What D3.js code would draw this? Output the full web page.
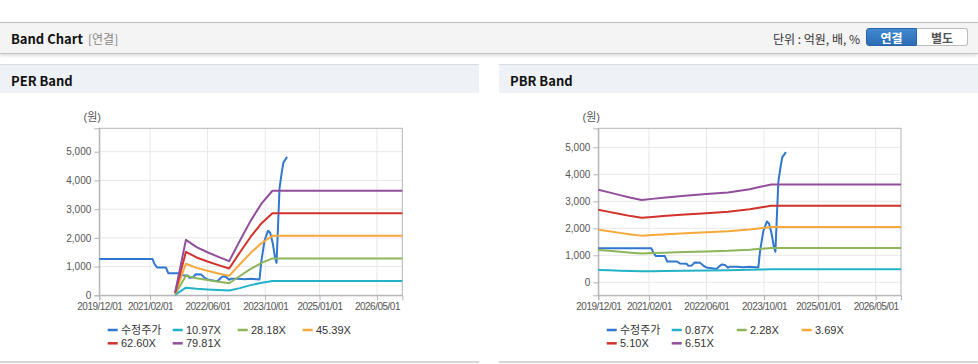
<!DOCTYPE html>
<html>
<head>
<meta charset="utf-8">
<script src="https://cdn.jsdelivr.net/npm/d3@7"></script>
<style>
  body { margin: 0; width: 978px; height: 364px; background: #fff; position: relative; overflow: hidden;
         font-family: "Noto Sans CJK KR", "Liberation Sans", sans-serif; }
  #topbar { position: absolute; left: 0; top: 22px; width: 978px; height: 30px; background: #f4f4f4;
            border-top: 1px solid #bdbdbd; border-bottom: 1px solid #c4c4c4; box-shadow: 0 2px 3px rgba(0,0,0,.13); }
  #topbar .ttl { position: absolute; left: 11px; top: 6px; font-size: 13px; font-weight: 700; color: #111; }
  #topbar .sub { position: absolute; left: 88px; top: 7px; font-size: 12px; color: #888; }
  #topbar .unit { position: absolute; right: 118px; top: 7px; font-size: 12px; color: #333; }
  .btn { position: absolute; top: 5px; height: 18px; width: 51px; font-size: 12px; font-weight: 700;
         text-align: center; line-height: 18px; box-sizing: border-box; }
  #b1 { left: 866px; background: linear-gradient(#4189d0, #2c6cb3); color: #fff; border: 1px solid #2a64a6;
        border-radius: 3px 0 0 3px; }
  #b2 { left: 917px; background: #fff; color: #555; border: 1px solid #bbb; border-left: none;
        border-radius: 0 3px 3px 0; }
  .phead { position: absolute; top: 64px; height: 28px; width: 479px; background: #eef2f7;
           border-top: 1px solid #d8dce0; }
  .phead span { position: absolute; left: 11px; top: 6px; font-size: 13px; font-weight: 700; color: #111; }
  .pfoot { position: absolute; top: 361px; height: 2px; width: 479px; background: #d6d6d6; }
  svg { position: absolute; left: 0; top: 0; }
</style>
</head>
<body>
<div id="topbar">
  <div class="ttl">Band Chart</div><div class="sub">[연결]</div>
  <div class="unit">단위 : 억원, 배, %</div>
  <div class="btn" id="b1">연결</div><div class="btn" id="b2">별도</div>
</div>
<div class="phead" style="left:0"><span>PER Band</span></div>
<div class="phead" style="left:499px"><span>PBR Band</span></div>
<div class="pfoot" style="left:0"></div>
<div class="pfoot" style="left:499px"></div>
<svg id="chart" width="978" height="364"></svg>
<script>
// ---- data ----
const xTicks = ['2019-12-01', '2021-02-01', '2022-06-01', '2023-10-01', '2025-01-01', '2026-05-01'];
const yTicks = [0, 1000, 2000, 3000, 4000, 5000];

// 수정주가 (shared by both panels)
const priceDates = ['2019-12-01', '2021-02-22', '2021-03-10', '2021-04-01', '2021-06-15', '2021-07-05',
  '2021-09-25', '2021-10-20', '2021-12-15', '2021-12-31', '2022-01-28', '2022-02-20', '2022-04-10',
  '2022-05-05', '2022-06-01', '2022-07-30', '2022-08-27', '2022-09-20', '2022-10-08', '2022-11-05',
  '2022-12-01', '2022-12-17', '2023-02-12', '2023-04-09', '2023-06-04', '2023-08-14', '2023-08-28',
  '2023-09-25', '2023-10-25', '2023-11-12', '2023-12-04', '2023-12-24', '2024-01-05', '2024-01-30',
  '2024-02-18', '2024-03-03', '2024-04-03'];
const priceVals = [1260, 1260, 1100, 970, 970, 770, 770, 700, 690, 610, 620, 730, 720, 620, 550, 510,
  500, 600, 660, 640, 540, 580, 580, 560, 580, 550, 1140, 1900, 2250, 2180, 1800, 1300, 1130, 3730,
  4290, 4630, 4820];

// PER band
const perDates = ['2021-09-01', '2021-12-01', '2022-03-01', '2022-06-01', '2022-09-01', '2022-12-01',
  '2023-03-01', '2023-06-01', '2023-09-01', '2023-12-01', '2026-12-01'];
const perLabels = ['10.97X', '28.18X', '45.39X', '62.60X', '79.81X'];
const per1097 = [14, 265, 231, 206, 184, 164, 250, 355, 440, 500, 500];
const per2818 = [35, 681, 593, 530, 473, 420, 671, 918, 1130, 1285, 1285];
const per4539 = [57, 1098, 955, 853, 762, 677, 1081, 1479, 1820, 2070, 2070];
const per6260 = [78, 1514, 1318, 1177, 1051, 933, 1490, 2039, 2510, 2855, 2855];
const per7981 = [100, 1930, 1680, 1500, 1340, 1190, 1900, 2600, 3200, 3640, 3640];

// PBR band
const pbrDates = ['2019-12-01', '2020-03-01', '2020-06-01', '2020-09-01', '2020-12-01', '2021-03-01',
  '2021-06-01', '2021-12-01', '2022-06-01', '2022-12-01', '2023-06-01', '2023-09-01', '2023-12-01',
  '2026-12-01'];
const pbrLabels = ['0.87X', '2.28X', '3.69X', '5.10X', '6.51X'];
const pbr087 = [458, 445, 432, 418, 407, 413, 418, 429, 437, 445, 461, 473, 484, 484];
const pbr228 = [1201, 1166, 1131, 1096, 1068, 1082, 1096, 1124, 1145, 1166, 1208, 1240, 1268, 1268];
const pbr369 = [1944, 1887, 1831, 1774, 1729, 1751, 1774, 1819, 1853, 1887, 1955, 2006, 2052, 2052];
const pbr510 = [2687, 2609, 2530, 2452, 2389, 2421, 2452, 2515, 2562, 2609, 2703, 2773, 2836, 2836];
const pbr651 = [3430, 3330, 3230, 3130, 3050, 3090, 3130, 3210, 3270, 3330, 3450, 3540, 3620, 3620];

const priceColor = '#3277cf';
const bandColors = ['#22b3c6', '#8db55a', '#f6a83a', '#d1322c', '#914e9b'];

// ---- drawing ----
const parse = d3.timeParse('%Y-%m-%d');
const svg = d3.select('#chart');
const FONT = '"Liberation Sans", "Noto Sans CJK KR", sans-serif';

function drawPanel(o) {
  const x = d3.scaleTime([parse('2019-12-01'), parse('2026-12-01')], [o.L, o.R]);
  const y = d3.scaleLinear(o.yDom, [o.B, o.T]);
  const g = svg.append('g');

  // grid
  g.append('g').selectAll('line').data(yTicks).join('line')
    .attr('x1', o.L).attr('x2', o.R).attr('y1', d => y(d)).attr('y2', d => y(d))
    .attr('stroke', '#e8e8e8');
  g.append('g').selectAll('line').data(xTicks).join('line')
    .attr('x1', d => x(parse(d))).attr('x2', d => x(parse(d))).attr('y1', o.T).attr('y2', o.B)
    .attr('stroke', '#e8e8e8');
  g.append('rect').attr('x', o.L).attr('y', o.T).attr('width', o.R - o.L).attr('height', o.B - o.T)
    .attr('fill', 'none').attr('stroke', '#b4b4b4');

  // axes
  const ya = g.append('g').attr('transform', `translate(${o.L},0)`)
    .call(d3.axisLeft(y).tickValues(yTicks).tickSize(5).tickPadding(3).tickFormat(d3.format(',')));
  const xa = g.append('g').attr('transform', `translate(0,${o.B})`)
    .call(d3.axisBottom(x).tickValues(xTicks.map(parse)).tickSize(5).tickPadding(3)
      .tickFormat(d3.timeFormat('%Y/%m/%d')));
  [ya, xa].forEach(a => {
    a.select('.domain').attr('stroke', '#b4b4b4');
    a.selectAll('line').attr('stroke', '#b4b4b4');
    a.selectAll('text').attr('fill', '#555').style('font-family', FONT).style('font-size', '10px');
  });
  xa.selectAll('text').style('letter-spacing', '-0.5px');

  g.append('text').attr('x', o.L - 7).attr('y', 121).attr('text-anchor', 'middle')
    .attr('fill', '#555').style('font-size', '11px').style('font-family', FONT).text('(원)');

  // series
  const line = d3.line().x(d => x(d[0])).y(d => y(d[1]));
  const series = [{ label: '수정주가', color: priceColor, pts: priceDates.map((d, i) => [parse(d), priceVals[i]]) }];
  o.bands.forEach((vals, k) => series.push({
    label: o.labels[k], color: bandColors[k],
    pts: o.dates.map((d, i) => [parse(d), vals[i]])
  }));
  g.append('g').selectAll('path').data(series).join('path')
    .attr('d', s => line(s.pts)).attr('fill', 'none').attr('stroke', s => s.color)
    .attr('stroke-width', 2).attr('stroke-linejoin', 'round');

  // legend
  const lg = g.append('g').selectAll('g').data(series).join('g')
    .attr('transform', (s, i) => `translate(${o.legX + (i % 4) * 65},${330 + Math.floor(i / 4) * 13.3})`);
  lg.append('line').attr('x1', 0).attr('x2', 10).attr('stroke', s => s.color).attr('stroke-width', 2.5);
  lg.append('text').attr('x', 13.3).attr('dy', '0.36em').attr('fill', '#333')
    .style('font-size', '11px').style('font-family', FONT).text(s => s.label);
}

drawPanel({ L: 99.3, R: 402.3, T: 128.3, B: 295.3, yDom: [0, 5815], legX: 107.7,
  dates: perDates, labels: perLabels, bands: [per1097, per2818, per4539, per6260, per7981] });
drawPanel({ L: 598.3, R: 901, T: 128.3, B: 295.3, yDom: [-481, 5704], legX: 606.7,
  dates: pbrDates, labels: pbrLabels, bands: [pbr087, pbr228, pbr369, pbr510, pbr651] });
</script>
</body>
</html>
